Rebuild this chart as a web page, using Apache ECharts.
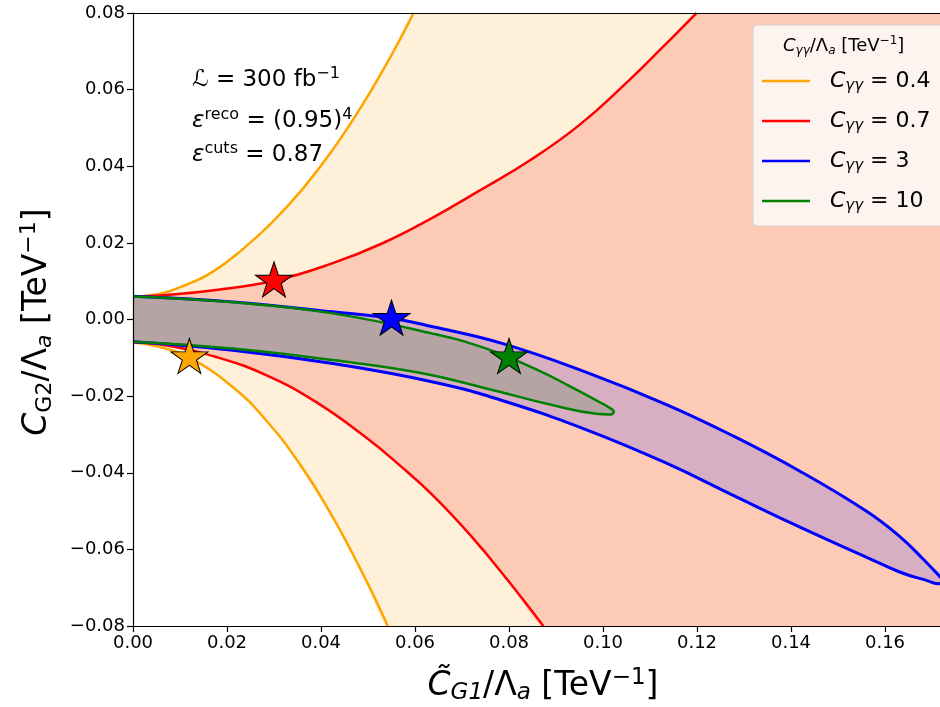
<!DOCTYPE html>
<html>
<head>
<meta charset="utf-8">
<script src="https://cdn.jsdelivr.net/npm/echarts@6/dist/echarts.min.js"></script>
<style>
html,body{margin:0;padding:0;background:#fff;}
#chart{width:940px;height:707px;}
</style>
</head>
<body>
<div id="chart"></div>
<script>
// axis ranges (the right edge of the original figure is cropped)
var xMax = 0.1717;
var yMin = -0.08, yMax = 0.08;

// C_gamma-gamma values of the four contours
var couplings = ['0.4', '0.7', '3', '10'];
var legendNames = ['Cγγ = 0.4', 'Cγγ = 0.7', 'Cγγ = 3', 'Cγγ = 10'];
var colors = ['#ffa500', '#ff0000', '#0000ff', '#008000'];
var fillColors = ['#fff1d9', '#fdcbb5', '#d8aec3', '#b6a4a4'];

// contour curves, [x, y]
var orangeUpper = [[0,0.006],[0.0042,0.0064],[0.0106,0.0087],[0.017,0.0125],[0.0233,0.0183],[0.0297,0.0255],
  [0.0361,0.0341],[0.0425,0.0443],[0.0489,0.0562],[0.0553,0.0697],[0.0597,0.08]];
var orangeLower = [[0,-0.006],[0.002,-0.0063],[0.007,-0.0076],[0.012,-0.0099],[0.0212,-0.0176],[0.0283,-0.0263],
  [0.0354,-0.0376],[0.0425,-0.0516],[0.0496,-0.0681],[0.0542,-0.08]];
var redUpper = [[0,0.006],[0.007,0.0064],[0.0177,0.0077],[0.03,0.0101],[0.0425,0.0147],[0.0531,0.0199],
  [0.0638,0.0266],[0.0738,0.0337],[0.0844,0.0415],[0.095,0.0508],[0.1057,0.0626],[0.1128,0.0712],[0.1199,0.08]];
var redLower = [[0,-0.006],[0.007,-0.0067],[0.0177,-0.0098],[0.0283,-0.0145],[0.0389,-0.0215],[0.0496,-0.0308],
  [0.0567,-0.0380],[0.0638,-0.0459],[0.072,-0.0566],[0.0797,-0.0680],[0.0873,-0.08]];
var blueUpper = [[0,0.0061],[0.0212,0.0046],[0.0425,0.002],[0.055,0.0003],[0.0638,-0.0019],[0.0787,-0.0063],
  [0.0965,-0.0138],[0.1135,-0.0222],[0.1277,-0.0304],[0.1419,-0.0396],[0.156,-0.0500],[0.1631,-0.0566],
  [0.1681,-0.0625],[0.1716,-0.0670],[0.1730,-0.0690]];
var blueLower = [[0,-0.0058],[0.0212,-0.008],[0.0425,-0.0115],[0.0638,-0.0163],[0.0787,-0.0212],[0.0965,-0.0288],
  [0.1135,-0.0375],[0.1277,-0.0459],[0.1419,-0.0542],[0.156,-0.062],[0.1631,-0.0659],[0.1688,-0.0681],[0.1716,-0.069]];
var greenUpper = [[0,0.006],[0.0212,0.0045],[0.0425,0.0016],[0.0638,-0.0037],[0.0752,-0.0076],[0.0858,-0.0130],
  [0.0929,-0.0174],[0.0993,-0.0216],[0.1012,-0.0229],[0.1023,-0.0241]];
var greenLower = [[0,-0.0058],[0.0212,-0.0076],[0.0425,-0.0106],[0.061,-0.0139],[0.0752,-0.018],[0.0894,-0.0224],
  [0.0986,-0.0246],[0.1016,-0.0248]];

// benchmark points (stars)
var stars = [[0.012,-0.01],[0.03,0.01],[0.055,0.0],[0.08,-0.01]];

var FONT = 'DejaVu Sans';

function openRegion(upper, lower){
  return upper.concat([[0.18, yMax],[0.18, yMin]]).concat(lower.slice().reverse());
}
function closedCurve(upper, lower){
  return upper.concat(lower.slice().reverse());
}
var regions = [
  openRegion(orangeUpper, orangeLower),
  openRegion(redUpper, redLower),
  closedCurve(blueUpper, blueLower),
  closedCurve(greenUpper, greenLower)
];

// 5-point star marker like matplotlib '*'
function starPath(){
  var d = '';
  for (var k = 0; k < 10; k++){
    var r = k % 2 ? 0.381966 : 1;
    var a = -Math.PI/2 + k*Math.PI/5;
    d += (k ? 'L' : 'M') + (r*Math.cos(a)*100).toFixed(2) + ',' + (r*Math.sin(a)*100).toFixed(2);
  }
  return 'path://' + d + 'Z';
}

function tickFmt(v){
  if (Math.abs(v) < 1e-9) return '0.00';
  return v < 0 ? '\u2212' + (-v).toFixed(2) : v.toFixed(2);
}

var series = [];
regions.forEach(function(pts, i){
  series.push({
    type:'custom', coordinateSystem:'cartesian2d', silent:true, z:1, clip:true,
    data:[[0,0]],
    renderItem:function(params, api){
      return {type:'polygon', shape:{points: pts.map(function(p){ return api.coord(p); }), smooth:0.15},
              style:{fill: fillColors[i]}};
    }
  });
});

var lineStyleBase = {type:'line', smooth:0.45, showSymbol:false, symbol:'none', z:3, silent:true, clip:true};
function addLine(name, data, color, width){
  series.push(Object.assign({}, lineStyleBase, {name:name, data:data, color:color,
    lineStyle:{color:color, width:width}}));
}
addLine(legendNames[0], orangeUpper, colors[0], 2.5);
addLine(legendNames[0], orangeLower, colors[0], 2.5);
addLine(legendNames[1], redUpper, colors[1], 2.5);
addLine(legendNames[1], redLower, colors[1], 2.5);
addLine(legendNames[2], closedCurve(blueUpper, blueLower), colors[2], 3);
addLine(legendNames[3], closedCurve(greenUpper, greenLower), colors[3], 2.5);

series.push({
  type:'scatter', z:4, silent:true,
  symbol: starPath(), symbolSize:[37,35], symbolOffset:[0,-1.8],
  data: stars.map(function(p, i){
    return {value:p, itemStyle:{color:colors[i], borderColor:'#000', borderWidth:1, opacity:1}};
  })
});

var richMain = {
  c:{fontSize:22, fontStyle:'italic', fontFamily:FONT, color:'#000', lineHeight:26},
  s:{fontSize:15, fontStyle:'italic', fontFamily:FONT, color:'#000', lineHeight:14, verticalAlign:'bottom'},
  n:{fontSize:22, fontFamily:FONT, color:'#000', lineHeight:26},
  sp:{width:15}
};

var annoRich = {
  c:{fontSize:23, fontStyle:'italic', fontFamily:FONT, fill:'#000', lineHeight:28},
  n:{fontSize:23, fontFamily:FONT, fill:'#000', lineHeight:28},
  p:{fontSize:16, fontFamily:FONT, fill:'#000', lineHeight:15, verticalAlign:'top'}
};

var axisBase = {
  axisLine:{show:true, onZero:false, lineStyle:{color:'#000', width:1.2}},
  axisTick:{show:true, length:6, lineStyle:{color:'#000', width:1.2}},
  splitLine:{show:false}
};

var chart = echarts.init(document.getElementById('chart'));
chart.setOption({
  animation:false,
  backgroundColor:'#fff',
  grid:{left:133, right:0, top:13, bottom:81},
  xAxis:[Object.assign({
    type:'value', min:0, max:xMax, interval:0.02, z:5,
    axisLabel:{fontSize:18, fontFamily:FONT, color:'#000', margin:8, formatter:tickFmt, showMaxLabel:false}
  }, axisBase),{
    type:'value', position:'top', min:0, max:xMax, z:5,
    axisLine:{show:true, onZero:false, lineStyle:{color:'#000', width:1.2}},
    axisTick:{show:false}, axisLabel:{show:false}, splitLine:{show:false}
  }],
  yAxis:Object.assign({
    type:'value', min:yMin, max:yMax, interval:0.02, z:5,
    axisLabel:{fontSize:18, fontFamily:FONT, color:'#000', margin:8, formatter:tickFmt}
  }, axisBase),
  legend:{
    data:legendNames, orient:'vertical', left:753, top:25,
    icon:'rect', itemWidth:48, itemHeight:2.5, itemGap:16,
    padding:[45,40,12,9],
    backgroundColor:'#fdf3ef', borderColor:'#d6d0ce', borderWidth:1, borderRadius:4,
    selectedMode:false,
    formatter:function(name){
      var idx = legendNames.indexOf(name);
      return '{sp|}{c|C}{s|γγ}{n| = ' + couplings[idx] + '}';
    },
    textStyle:{rich:richMain}
  },
  graphic:[
    {type:'text', left:783, top:35, z:10, style:{
      text:'{c|C}{s|γγ}{n|/Λ}{s|a}{n| [TeV}{p|−1}{n|]}',
      rich:{
        c:{fontSize:18, fontStyle:'italic', fontFamily:FONT, fill:'#000', lineHeight:22},
        s:{fontSize:12, fontStyle:'italic', fontFamily:FONT, fill:'#000', lineHeight:11, verticalAlign:'bottom'},
        n:{fontSize:18, fontFamily:FONT, fill:'#000', lineHeight:22},
        p:{fontSize:12, fontFamily:FONT, fill:'#000', lineHeight:11, verticalAlign:'top'}
      }}},
    {type:'text', x:192, y:80, z:10, style:{
      text:'{c|ℒ}{n| = 300 fb}{p|−1}', verticalAlign:'middle', rich:annoRich}},
    {type:'text', x:192, y:121, z:10, style:{
      text:'{c|ε}{p|reco}{n| = (0.95)}{p|4}', verticalAlign:'middle', rich:annoRich}},
    {type:'text', x:192, y:155, z:10, style:{
      text:'{c|ε}{p|cuts}{n| = 0.87}', verticalAlign:'middle', rich:annoRich}},
    // x axis title
    {type:'text', x:543, y:686, z:10, style:{
      text:'{c|C̃}{s|G1}{n|/Λ}{s|a}{n| [TeV}{p|−1}{n|]}', align:'center', verticalAlign:'middle',
      rich:{c:{fontSize:33, fontStyle:'italic', fontFamily:FONT, fill:'#000', lineHeight:38},
            s:{fontSize:23, fontStyle:'italic', fontFamily:FONT, fill:'#000', lineHeight:21, verticalAlign:'bottom'},
            n:{fontSize:33, fontFamily:FONT, fill:'#000', lineHeight:38},
            p:{fontSize:23, fontFamily:FONT, fill:'#000', lineHeight:21, verticalAlign:'top'}}}},
    // y axis title
    {type:'text', x:37, y:322, rotation:Math.PI/2, z:10, style:{
      text:'{c|C}{s|G2}{n|/Λ}{s2|a}{n| [TeV}{p|−1}{n|]}', align:'center', verticalAlign:'middle',
      rich:{c:{fontSize:33, fontStyle:'italic', fontFamily:FONT, fill:'#000', lineHeight:38},
            s:{fontSize:22, fontFamily:FONT, fill:'#000', lineHeight:20, verticalAlign:'bottom'},
            s2:{fontSize:22, fontStyle:'italic', fontFamily:FONT, fill:'#000', lineHeight:20, verticalAlign:'bottom'},
            n:{fontSize:33, fontFamily:FONT, fill:'#000', lineHeight:38},
            p:{fontSize:22, fontFamily:FONT, fill:'#000', lineHeight:20, verticalAlign:'top'}}}}
  ],
  series:series
});
</script>
</body>
</html>
